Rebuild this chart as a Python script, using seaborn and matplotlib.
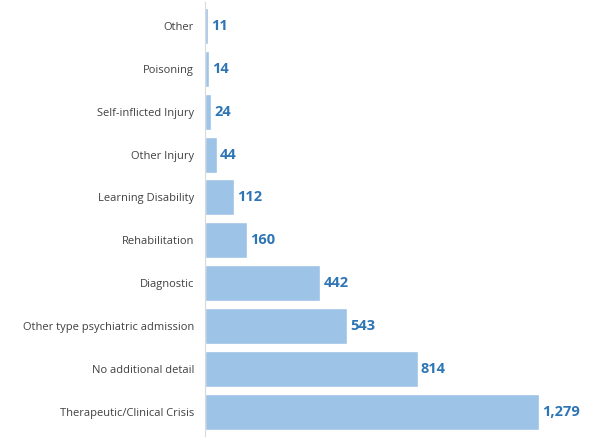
import matplotlib
matplotlib.use("Agg")
import matplotlib.pyplot as plt
import seaborn as sns
import pandas as pd

categories = ["Other", "Poisoning", "Self-inflicted Injury", "Other Injury", "Learning Disability",
              "Rehabilitation", "Diagnostic", "Other type psychiatric admission",
              "No additional detail", "Therapeutic/Clinical Crisis"]
values = [11, 14, 24, 44, 112, 160, 442, 543, 814, 1279]

df = pd.DataFrame({"cat": categories, "val": values})
sns.set_style("white")
plt.rcParams['font.family'] = ['Open Sans', 'DejaVu Sans']

fig = plt.figure(figsize=(5.91, 4.40), dpi=100)
ax = fig.add_axes([0.347, 0.01, 0.653, 0.985])
sns.barplot(data=df, x="val", y="cat", color="#9DC3E6", saturation=1, width=0.84, ax=ax)
ax.set_xlim(0, 1478)
ax.set_ylim(9.55, -0.55)
for i, v in enumerate(values):
    ax.text(v + 12, i, f"{v:,}", va="center", ha="left", fontsize=10.5,
            fontweight="bold", color="#2E75B6")
ax.set_xlabel("")
ax.set_ylabel("")
ax.set_xticks([])
ax.tick_params(axis="y", length=0, labelsize=8, labelcolor="#404040", pad=8)
for sp in ["top", "right", "bottom"]:
    ax.spines[sp].set_visible(False)
ax.spines["left"].set_color("#D9D9D9")
fig.savefig("out.png", dpi=100)
